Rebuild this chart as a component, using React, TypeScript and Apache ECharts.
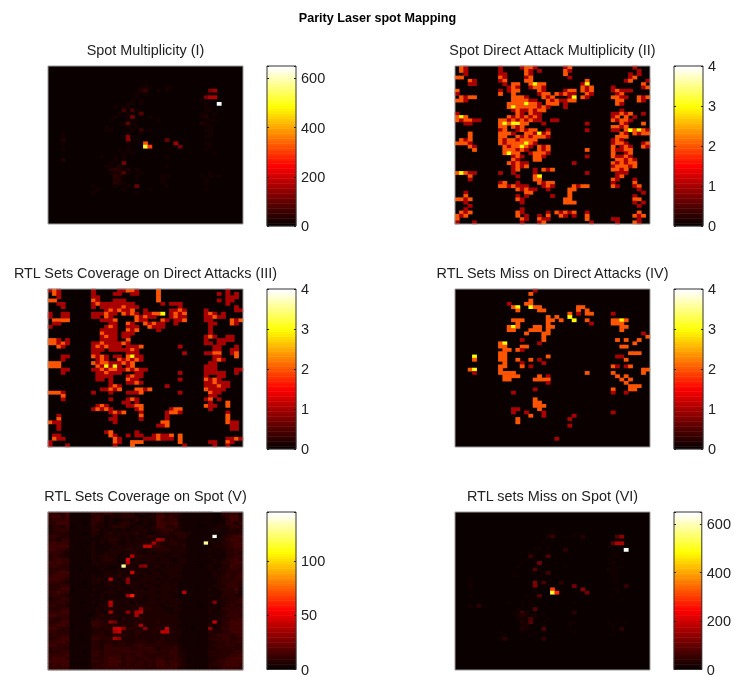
import React, { useEffect, useRef } from "react";
import * as echarts from "echarts";

const FONT = "'Liberation Sans', Arial, sans-serif";
const COLS = 45;
const ROWS = 48;
const hot = ["#0a0000", "#550000", "#aa0000", "#ff0000", "#ff5500", "#ffaa00", "#ffff00", "#ffff80", "#ffffff"];

const mainTitle = "Parity Laser spot Mapping";
const titles = [
  "Spot Multiplicity (I)",
  "Spot Direct Attack Multiplicity (II)",
  "RTL Sets Coverage on Direct Attacks (III)",
  "RTL Sets Miss on Direct Attacks (IV)",
  "RTL Sets Coverage on Spot (V)",
  "RTL sets Miss on Spot (VI)",
];
const maxima = [650, 4, 4, 4, 145, 650];
const intervals = [200, 1, 1, 1, 50, 200];

// Each row: "startColumn:digits" runs.
const attackRows = [
  "1:21 10:1 15:1221 25:12 41:1",
  "1:21 10:1 16:21 19:1 25:21 42:1",
  "2:1 10:11 16:2 17:1 25:2 40:1 42:1",
  "0:22 10:21 16:12 26:1 40:12",
  "3:21 10:12 16:22 30:2 39:12 44:1",
  "3:11 11:1 13:22 17:2322 29:13 43:2",
  "12:121 17:1221 29:212 36:1 43:12",
  "0:2 10:1 12:122 19:21 25:122 29:212 36:1211 40:1",
  "0:1 10:2 13:2 19:122 23:21211 30:21 37:12",
  "1:2122 13:2221 20:212 26:13 29:21 36:2211 42:212",
  "0:221 13:222 16:211 21:2121122 37:22 42:21",
  "12:222 15:23221 21:222 25:1 37:21",
  "12:232 15:2222121 25:1",
  "13:121 16:12122 38:1",
  "0:1 14:21 17:211 36:11 38:212 43:1",
  "0:232 12:212121 18:21 36:12 39:2 41:1",
  "0:21 2:2211 10:221212121 19:1 22:11 36:21 38:221",
  "2:11 10:2323322 20:1 30:1 38:21 43:2",
  "10:22 13:212 36:2212",
  "10:12 14:12122 21:1 30:1 36:11 39:23232 44:1",
  "3:2 10:22 12:21 16:22131 21:2 38:21 41:2122",
  "3:2 10:22 14:21212221 37:222",
  "1:212 10:21221 15:2222 36:121",
  "0:2221 10:212222321 36:1221 43:12",
  "3:2 4:1 11:2122321 19:212 36:2 38:121 43:21",
  "4:2 11:222121 19:212 30:2 36:21122",
  "11:2322 17:12221 36:2 39:12",
  "13:121 18:221 30:1 36:21121",
  "13:21 18:22 37:22121",
  "12:21211 27:1 36:212122",
  "13:1212 36:122212",
  "13:12 18:1 20:212 36:2212",
  "0:2321 4:1 10:1 13:1 18:1 30:1 37:111",
  "3:2 14:1 18:23 37:12",
  "3:1 18:22 36:21 41:1",
  "10:12 14:1 19:2122 36:1 41:2",
  "10:22121 15:11 20:121 27:2122 36:21 41:12",
  "14:21211 21:1 26:22 42:1",
  "2:1 16:22 26:2 43:1",
  "2:2 14:1 16:1 22:1 26:2 41:1",
  "0:2212 14:21 25:22 41:22",
  "2:1 15:1 25:222 41:1 43:1",
  "3:1 42:1",
  "2:1 15:1",
  "1:212 14:21 21:1 23:212 26:12 30:1 42:2",
  "0:212 14:2 16:1 19:1 21:2 24:21 27:1 30:2 41:212",
  "0:2 15:21 19:211 30:2 36:11 42:1",
  "0:1 4:1 15:1 19:12 31:1 37:1 41:21",
];

const coverageRows = [
  "0:121 10:1 16:11221 25:2 41:1",
  "1:21 10:1 15:11 19:11 25:2 39:1 41:1 43:1",
  "2:1 10:11 25:2 41:11 43:1",
  "0:22 10:21 15:111 25:2 39:1 41:11",
  "2:11 10:121 13:1111111 26:1 28:111 41:1",
  "3:1 10:1 12:111112111 30:1 43:1",
  "13:1212112 22:1 28:1121 36:1 43:11",
  "0:1 3:11 10:11 12:1211 17:2121 22:11223 28:1212 36:121 40:1",
  "0:1 3:11 10:11 13:21 20:21 22:211 28:1211 36:11211",
  "1:2222 12:1112 20:211 26:21 29:112 36:11 42:212",
  "1:1 2:1 14:11 18:21 22:2 23:1211 29:1 37:11 42:21",
  "0:1 13:121 18:111 23:2111 37:1",
  "12:1111 18:212 25:1 37:1",
  "12:2111 17:111 37:1",
  "12:1211 17:11 36:121 41:11",
  "0:22 2:1 4:1 12:1111 18:2 36:1 39:1111",
  "0:2212 4:1 10:112111121 36:11 39:11",
  "2:21 3:1 10:1212111 18:1112 30:1 38:11 43:1",
  "10:111 14:1111121 38:11 42:11",
  "10:11 18:111 31:1 36:1122 42:12",
  "3:11 10:2121 15:11 18:2311 38:11 43:2",
  "3:1 11:121 16:212121 38:121",
  "0:222 10:2122 14:11 16:1212 37:11",
  "0:22 2:2 11:21313 16:1 18:12 36:111",
  "3:11 10:112 13:12211 18:21211 36:111 43:11",
  "3:1 11:112111 20:11 30:1 36:11111 43:1",
  "11:1111 18:1211 36:1 39:11",
  "11:11 14:1 18:211 30:1 36:2121",
  "14:1 18:1121 36:112111",
  "14:121 27:1 36:111211",
  "12:11212 20:2212 36:21111",
  "0:2221 10:1 14:1 18:1112 30:1 37:211",
  "3:2 37:11",
  "3:1 14:1 18:121 36:12 39:1",
  "17:11 20:1 37:1 41:2",
  "11:121 18:1122 36:211 41:2",
  "10:12121 20:12 28:122 37:1",
  "14:1212 21:1 27:1221 41:1",
  "2:1 15:1 21:2 27:1 41:2",
  "2:2 14:11 21:1 27:1 41:2",
  "0:211 15:1 26:22 41:21 43:1",
  "2:1 25:112 42:1 43:1",
  "2:1 42:1 43:1",
  "13:12 20:1",
  "1:11 14:21 18:1 20:11 24:12112 30:2",
  "1:211 15:21 22:11 24:12111 30:2 41:1121",
  "0:1 15:21 19:222 30:2 37:11 41:21",
  "0:1 4:1 15:1 19:2 31:1 38:1 41:1",
];

const missRows = [
  "18:1",
  "17:2",
  "",
  "17:2",
  "12:1 16:22",
  "13:23 17:322 28:22",
  "14:2 19:22 28:2 30:2",
  "26:2 28:1 30:22 36:1",
  "21:2 23:2 26:3",
  "13:222 21:22 24:2 27:3 30:2 36:2232",
  "14:2 21:2 31:1 36:222",
  "12:232 18:22 21:22 38:22",
  "12:22 17:222 21:2 38:2",
  "16:2 20:22 43:1",
  "20:2 44:2",
  "15:1 20:2 37:2 39:2 42:2",
  "10:23 19:1 41:2",
  "10:22 15:22 38:22",
  "11:22 14:21",
  "10:22 40:222",
  "4:3 10:22 21:2 37:11",
  "4:2 10:22 14:2 17:2 19:1 39:2",
  "11:2 15:1 20:1",
  "10:22 15:2 17:1 36:2 37:1 39:1 40:2",
  "3:23 10:2 43:22",
  "4:1 10:2 11:222 30:2 36:2 43:2",
  "11:2222 19:2 21:1 37:2 39:2",
  "11:22 18:2 19:22 21:2 38:2 40:2",
  "21:1 39:2",
  "40:222",
  "18:1 36:2 40:22",
  "13:1 36:1 39:1",
  "",
  "18:2",
  "18:22",
  "18:222",
  "13:1 14:1 19:2",
  "13:1 16:1 20:1 36:1",
  "17:2 20:1 27:1",
  "14:2 26:1",
  "14:2",
  "26:1",
  "",
  "",
  "",
  "23:1",
  "",
  "",
];

const spotRows = [
  "", "", "", "", "",
  "22:1",
  "21:11 23:1 27:11",
  "21:2 25:1 27:1",
  "20:1 22:1",
  "20:1 37:1",
  "19:1 21:1 35:1",
  "18:11 21:1 36:1",
  "15:1 17:11 36:11",
  "17:2 20:1 36:11",
  "16:1 18:1 21:1 35:11 38:1",
  "15:1 18:11 23:1 35:12",
  "14:1 18:1 20:1 25:1 36:11 38:1",
  "17:1 19:1 35:21",
  "13:1 18:1 20:1 36:11",
  "13:11 19:1 23:1 36:11",
  "3:1 18:1 21:1 37:1",
  "3:1 17:1 19:1 36:1 37:1",
  "3:2 18:1 20:1",
  "3:1 18:1 36:1 37:1",
  "18:1 37:1",
  "3:1 16:1 18:1 36:1",
  "17:1 19:1 38:1",
  "12:1 15:1 17:1 27:1",
  "3:2 15:1 17:1",
  "14:1 17:1",
  "13:11 16:2 27:1",
  "14:2 15:3 16:212 20:1",
  "14:1 15:2 16:2 18:1 21:1 37:1",
  "15:32 17:1 20:1 26:11 35:1 37:1 39:1",
  "15:22 20:1 26:1 36:1",
  "15:3 16:21 26:1 36:1",
  "10:1 15:1 18:1 27:1",
  "11:1 17:1 23:1 36:1",
  "10:1 20:1",
  "",
  "", "", "", "", "", "", "", "",
];

const spotSpots: number[][] = [
  [7, 37, 120], [7, 38, 150], [9, 36, 120], [9, 37, 170], [9, 38, 170], [11, 39, 650],
  [24, 22, 520], [23, 22, 320], [24, 23, 300], [22, 27, 100], [23, 29, 150], [24, 30, 110],
  [21, 18, 130], [22, 18, 130], [15, 19, 110], [17, 18, 90], [13, 17, 60], [13, 19, 70],
  [14, 21, 80], [7, 22, 50], [29, 17, 110], [36, 20, 100], [32, 17, 80], [19, 21, 50],
];

const missSpotSpots: number[][] = [
  [7, 37, 80], [7, 38, 130], [9, 36, 90], [9, 37, 170], [9, 38, 170], [11, 39, 650],
  [24, 22, 520], [23, 22, 300], [24, 23, 280], [22, 27, 110], [23, 29, 130], [24, 30, 110],
  [21, 18, 120], [22, 18, 120], [13, 21, 80], [15, 19, 110], [17, 18, 80], [13, 17, 50],
  [7, 22, 50], [18, 21, 60], [21, 20, 70], [25, 19, 80], [29, 18, 80], [32, 17, 70],
  [33, 17, 80], [35, 20, 70], [30, 15, 50], [22, 39, 50], [28, 5, 40], [35, 38, 40],
  [38, 11, 35], [38, 20, 40], [21, 24, 40], [30, 27, 35], [11, 25, 40], [7, 29, 30],
];

// Digit grid of the dim background in panel V.
const coverageSpotBase = [
  "44335 11111 43344 22333 12212 44233 21111 11100 33442",
  "45535 11111 34312 22333 21122 55343 21111 11110 24552",
  "34445 11111 44312 11221 31212 54344 11111 11101 13553",
  "33555 11101 43212 12332 11211 55445 21111 11111 14424",
  "23324 01111 32212 33321 22112 55334 21111 01112 22443",
  "23444 11111 33121 21212 22212 34442 21111 11122 12323",
  "23332 11101 32123 12222 31211 23323 32211 11111 12223",
  "44323 11111 21122 22121 21233 22222 33111 11111 23455",
  "33244 11111 11223 32121 22222 33232 22111 11211 24554",
  "45444 11110 21212 31122 22234 42233 22111 11121 33455",
  "55555 11111 21111 22222 22234 43222 23111 11122 23455",
  "55443 11011 21112 22233 22123 33322 22111 01211 23344",
  "44432 11111 21122 22122 22121 22212 22111 11112 13343",
  "34322 11111 22232 21212 33222 22122 21111 11211 12344",
  "34544 11110 21233 21121 22222 12211 22111 11121 23453",
  "54544 11111 22222 21122 21222 22221 22111 11121 33455",
  "45433 11111 12121 11222 12212 21212 21111 01211 22544",
  "33343 11011 11211 12122 22122 12222 21111 11212 23443",
  "34555 11111 11122 12212 22212 21222 11111 11121 23334",
  "45554 11111 21122 23121 21222 22122 21111 11122 34345",
  "55543 11111 22211 21221 12222 12221 21111 11112 33344",
  "44432 11101 22122 12122 22212 21212 11111 11112 33443",
  "33344 11111 11122 22122 21222 12222 11111 11122 24443",
  "33455 01111 21112 12212 22122 22222 11110 11212 33352",
  "44544 11111 11122 21221 22222 12212 11111 11111 23341",
  "34432 11111 21212 11122 22122 22221 11111 11211 33322",
  "23344 11111 11211 21212 22122 12222 11111 11112 22334",
  "33443 11011 21122 22221 21222 22122 21111 11211 23344",
  "44332 11111 11222 22122 22222 21222 11111 01121 23433",
  "33344 11111 12122 22212 22332 22112 21111 11211 34344",
  "44455 11111 12212 21223 22222 22212 11111 11212 23444",
  "55444 11110 12322 22122 32222 22222 11111 11121 24443",
  "43344 11111 23222 21322 23222 22222 11111 11212 33445",
  "33455 11111 44322 32222 32222 32222 21111 11121 34555",
  "44554 01111 44332 22322 33222 22222 11111 11212 33555",
  "55433 11111 23233 22333 22222 32322 11101 11212 44555",
  "44333 11111 22322 23222 33223 22332 21111 11322 33555",
  "34344 11111 33322 22322 32222 22222 21111 11234 44345",
  "33455 11011 44333 22222 22222 23222 11111 11333 44334",
  "44554 11111 33223 23322 33322 33222 11111 11223 34344",
  "55344 11111 33244 23323 44333 33323 21111 11233 34433",
  "34433 11111 33244 44443 34443 23334 21111 11223 33333",
  "33344 11101 44344 34444 44344 33344 22111 11332 33344",
  "44445 11111 44244 44343 44333 33344 22111 11233 33445",
  "45554 11111 33345 54344 33433 44334 32111 11223 34555",
  "55555 11111 44345 55344 34343 55344 32111 11234 45555",
  "45455 11111 33445 54343 44343 55445 32111 11333 45554",
  "44444 11111 34344 44444 33333 44444 22111 11222 44444",
];

const coverageSpotSpots: number[][] = [
  [10, 22, 42], [10, 23, 42], [9, 24, 36], [8, 25, 36], [8, 26, 30], [14, 18, 45], [15, 18, 40],
  [16, 17, 130], [18, 19, 45], [13, 19, 40], [16, 22, 30], [16, 21, 28], [20, 14, 40], [20, 18, 30],
  [21, 18, 28], [24, 31, 40], [25, 18, 36], [25, 19, 60], [27, 14, 40], [28, 14, 36], [30, 14, 36],
  [30, 18, 30], [30, 20, 36], [30, 21, 40], [29, 21, 30], [31, 20, 36], [35, 15, 42], [35, 16, 45],
  [36, 16, 42], [36, 15, 36], [35, 17, 30], [38, 15, 36], [38, 16, 30], [35, 27, 42], [36, 26, 42],
  [36, 27, 40], [34, 21, 36], [35, 22, 30], [33, 38, 42], [35, 37, 30], [9, 36, 130], [7, 38, 143],
  [27, 38, 28], [33, 14, 30], [33, 15, 24],
];

function fromRuns(rows: string[], unit: number, spots: number[][] = []): number[][] {
  const cells = rows.map(() => new Array(COLS).fill(0));
  rows.forEach((row, r) => {
    row.split(" ").filter(Boolean).forEach((run) => {
      const [start, digits] = run.split(":");
      [...digits].forEach((d, i) => {
        const c = Number(start) + i;
        if (c < COLS) cells[r][c] = Number(d) * unit;
      });
    });
  });
  spots.forEach(([r, c, v]) => { cells[r][c] = v; });
  return cells;
}

function fromDigits(rows: string[], unit: number, spots: number[][] = []): number[][] {
  const cells = rows.map((row) => [...row.replace(/ /g, "")].map((d) => Number(d) * unit));
  spots.forEach(([r, c, v]) => { cells[r][c] = v; });
  return cells;
}

const grids = [
  fromRuns(spotRows, 12, spotSpots),
  fromRuns(attackRows, 1),
  fromRuns(coverageRows, 1),
  fromRuns(missRows, 1),
  fromDigits(coverageSpotBase, 2.5, coverageSpotSpots),
  fromRuns(spotRows, 8, missSpotSpots),
];

const plotLeft = [48, 455];
const rowTop = [66, 289, 512];
const plotW = 195;
const plotH = 158;
const barLeft = [267, 674];
const barW = 29;
const barH = 160;
const LEVELS = 64;

function buildOption() {
  const grid: any[] = [];
  const xAxis: any[] = [];
  const yAxis: any[] = [];
  const series: any[] = [];
  const visualMap: any[] = [];
  const title: any[] = [{
    text: mainTitle, left: 377.5, top: 11, padding: 0, textAlign: "center",
    textStyle: { fontFamily: FONT, fontSize: 12.6, fontWeight: "bold", color: "#000" },
  }];
  const colIdx = Array.from({ length: COLS }, (_, i) => i);
  const rowIdx = Array.from({ length: ROWS }, (_, i) => i);
  const levelIdx = Array.from({ length: LEVELS }, (_, i) => i);

  grids.forEach((cells, p) => {
    const cx = p % 2;
    const ry = Math.floor(p / 2);
    const max = maxima[p];
    const interval = intervals[p];
    title.push({
      text: titles[p], left: plotLeft[cx] + plotW / 2, top: rowTop[ry] - 23, padding: 0, textAlign: "center",
      textStyle: { fontFamily: FONT, fontSize: 14.4, fontWeight: "normal", color: "#222" },
    });
    // dark plot background under the cells, frame over them
    grid.push({ left: plotLeft[cx], top: rowTop[ry], width: plotW, height: plotH, show: true, z: 0, backgroundColor: hot[0], borderWidth: 0 });
    const gi = grid.length;
    grid.push({ left: plotLeft[cx], top: rowTop[ry], width: plotW, height: plotH, show: true, z: 3, backgroundColor: "transparent", borderColor: "#999", borderWidth: 1 });
    const xi = xAxis.length;
    xAxis.push({ type: "category", gridIndex: gi, data: colIdx, show: false });
    const yi = yAxis.length;
    yAxis.push({ type: "category", gridIndex: gi, data: rowIdx, inverse: true, show: false });
    const data: number[][] = [];
    cells.forEach((row, r) => row.forEach((v, c) => { if (v > 0) data.push([c, r, v]); }));
    const si = series.length;
    series.push({ type: "heatmap", xAxisIndex: xi, yAxisIndex: yi, data, z: 2, silent: true, progressive: 0 });

    // colour bar
    const bi = grid.length;
    grid.push({ left: barLeft[cx], top: rowTop[ry], width: barW, height: barH, show: true, z: 3, backgroundColor: "transparent", borderColor: "#333", borderWidth: 1 });
    const bx = xAxis.length;
    xAxis.push({ type: "category", gridIndex: bi, data: [0], show: false });
    const by = yAxis.length;
    yAxis.push({ type: "category", gridIndex: bi, data: levelIdx, show: false });
    const tickCommon = {
      type: "value", gridIndex: bi, min: 0, max, interval, z: 5,
      axisLine: { show: false }, splitLine: { show: false },
    };
    yAxis.push({
      ...tickCommon, position: "right",
      axisTick: { show: true, inside: true, length: 2, lineStyle: { color: "#222" } },
      axisLabel: {
        show: true, margin: 5, fontFamily: FONT, fontSize: 14.5, color: "#222",
        formatter: (v: number) => (v % interval === 0 ? String(v) : ""),
      },
    });
    yAxis.push({
      ...tickCommon, position: "left",
      axisTick: { show: true, inside: true, length: 2, lineStyle: { color: "#222" } },
      axisLabel: { show: false },
    });
    const barData = levelIdx.map((l) => [0, l, (l / (LEVELS - 1)) * max]);
    const sb = series.length;
    series.push({ type: "heatmap", xAxisIndex: bx, yAxisIndex: by, data: barData, z: 2, silent: true, progressive: 0 });
    visualMap.push({ show: false, type: "continuous", min: 0, max, seriesIndex: [si, sb], dimension: 2, inRange: { color: hot } });
  });
  return { animation: false, backgroundColor: "#ffffff", title, grid, xAxis, yAxis, series, visualMap };
}

export default function App() {
  const ref = useRef<HTMLDivElement>(null);
  useEffect(() => {
    if (!ref.current) return;
    const chart = echarts.init(ref.current, undefined, { renderer: "svg" });
    chart.setOption(buildOption() as any);
    return () => chart.dispose();
  }, []);
  return <div ref={ref} style={{ position: "fixed", left: 0, top: 0, width: 734, height: 677, filter: "blur(0.4px)" }} />;
}
